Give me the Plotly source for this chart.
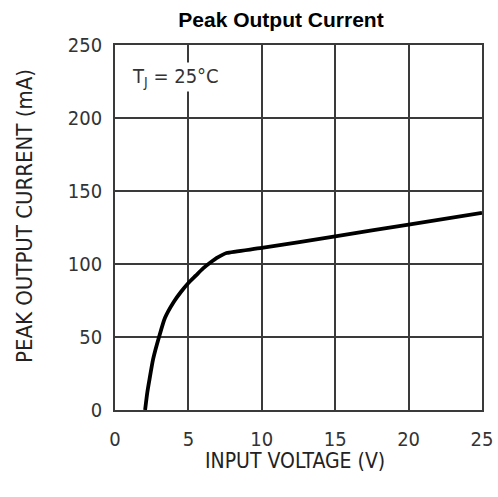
import plotly.graph_objects as go

input_voltage = [2.05, 2.2, 2.35, 2.6, 3.0, 3.4, 4.0, 4.5, 5.0, 5.5, 6.0, 6.5, 7.0, 7.6, 10, 15, 20, 25]
peak_current = [0, 12, 21, 35, 50, 63, 74, 81, 87, 92, 97, 101, 104.5, 107.5, 111, 119, 127, 135]

x_ticks = [0, 5, 10, 15, 20, 25]
y_ticks = [0, 50, 100, 150, 200, 250]

FONT = "DejaVu Sans Condensed"

fig = go.Figure()
fig.add_trace(go.Scatter(x=input_voltage, y=peak_current, mode="lines",
                         line=dict(color="black", width=3.8, shape="spline", smoothing=0.6),
                         showlegend=False, hoverinfo="skip"))

axis_font = dict(family=FONT, size=20, color="#333333")
fig.update_xaxes(range=[0, 25], tickvals=x_ticks, ticktext=[str(v) for v in x_ticks],
                 showgrid=True, gridcolor="#3a3a3a", gridwidth=1.6, zeroline=False,
                 showline=True, linecolor="#3a3a3a", linewidth=1.8, mirror=True,
                 ticks="", tickfont=axis_font, ticklabelstandoff=10, automargin=False)
fig.update_yaxes(range=[0, 250], tickvals=y_ticks, ticktext=[str(v) for v in y_ticks],
                 showgrid=True, gridcolor="#3a3a3a", gridwidth=1.6, zeroline=False,
                 showline=True, linecolor="#3a3a3a", linewidth=1.8, mirror=True,
                 ticks="", tickfont=axis_font, ticklabelstandoff=7, automargin=False)

# plot area in page pixels: x 115..482, y 45..410
fig.add_annotation(x=(130 - 115) / 367, y=(410 - 77) / 365, xref="paper", yref="paper",
                   xanchor="left", yanchor="middle",
                   text="T<sub>J</sub> = 25°C", showarrow=False, bgcolor="white",
                   font=dict(family=FONT, size=20, color="#333333"))
fig.add_annotation(x=(294.5 - 115) / 367, y=(410 - 461) / 365, xref="paper", yref="paper",
                   xanchor="center", yanchor="middle", text="INPUT VOLTAGE (V)", showarrow=False,
                   font=dict(family=FONT, size=21, color="#222222"))
fig.add_annotation(x=(24 - 115) / 367, y=(410 - 216) / 365, xref="paper", yref="paper",
                   xanchor="center", yanchor="middle", text="PEAK OUTPUT CURRENT (mA)", textangle=-90,
                   showarrow=False, font=dict(family=FONT, size=22, color="#222222"))

W, H = 498, 497
fig.update_layout(
    width=W, height=H,
    margin=dict(l=115, r=W - 482, t=45, b=H - 410),
    paper_bgcolor="white", plot_bgcolor="white",
    title=dict(text="<b>Peak Output Current</b>", x=281 / W, xanchor="center",
               y=1 - 20 / H, yanchor="middle",
               font=dict(family="Liberation Sans", size=21, color="black")),
)

fig.write_html("out.html", config={"displayModeBar": False},
               post_script="document.body.style.margin='0px';document.body.style.overflow='hidden';")
